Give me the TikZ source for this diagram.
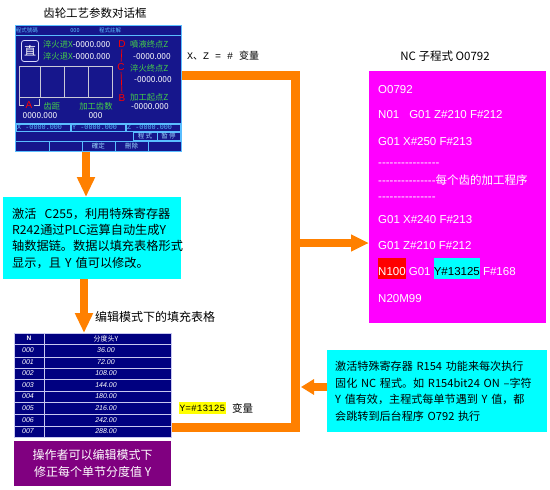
\documentclass[tikz,border=0pt]{standalone}
\usepackage{fontspec}
\setmainfont{Liberation Sans}
\newfontfamily\cjk{Noto Sans CJK SC}
\newfontfamily\mono{Liberation Mono}
\usetikzlibrary{arrows.meta}
\definecolor{dlgblue}{RGB}{22,22,140}
\definecolor{tblblue}{RGB}{0,0,128}
\definecolor{orng}{RGB}{255,128,0}
\definecolor{dgreen}{RGB}{70,210,70}
\definecolor{lblue}{RGB}{90,190,255}
\definecolor{purp}{RGB}{128,0,128}
\definecolor{gridgray}{RGB}{200,200,215}
\definecolor{tblline}{RGB}{200,200,240}
\definecolor{cyanc}{RGB}{0,255,255}
\definecolor{magc}{RGB}{255,0,255}
\definecolor{yelc}{RGB}{255,255,0}
\definecolor{redc}{RGB}{255,0,0}
\newcommand\dashrun[1]{\foreach \k in {1,...,#1}{-\kern0pt}}
\begin{document}
\begin{tikzpicture}[x=1pt,y=-1pt,
  every node/.style={inner sep=0pt},
  bus/.style={draw=orng, line width=9pt, line join=miter},
  orangearrow/.style={draw=orng, line width=8.5pt, -{Triangle[length=20pt,width=17pt]}},
  grn/.style={text=dgreen, font=\cjk\fontsize{8.3}{9}\selectfont},
  wht/.style={text=white, font=\cjk\fontsize{8.3}{9}\selectfont},
  redl/.style={text=redc, font=\fontsize{10}{11}\selectfont},
  stat/.style={text=lblue, font=\cjk\fontsize{5.5}{6}\selectfont},
  btn/.style={text=lblue!60!white, font=\cjk\fontsize{6.5}{7}\selectfont},
  coordtxt/.style={text=lblue, font=\mono\fontsize{6.8}{7}\selectfont, anchor=west},
  dline/.style={lblue, line width=0.6pt},
  code/.style={text=white, font=\fontsize{11.5}{13}\selectfont, anchor=base west},
  tbltxt/.style={text=white, font=\itshape\fontsize{7}{8}\selectfont},
  cjklabel/.style={font=\cjk\fontsize{11.5}{12}\selectfont}
]
\useasboundingbox (0,0) rectangle (550,490);

% ---------- title ----------
\node[cjklabel] (ttl) at (95,13) {齿轮工艺参数对话框};

% ---------- dialog ----------
\node[fill=dlgblue, draw=lblue, line width=0.6pt, anchor=north west,
      minimum width=166pt, minimum height=126pt] (dlg) at (15,25) {};
\node[stat] (st1) at (27,30.5) {程式號碼};
\node[stat] (st2) at (75,30.5) {000};
\node[stat] (st3) at (110,30.5) {程式註解};
\draw[dline] (15,35.5) -- (181,35.5);

\node[draw=white!85!blue, line width=0.8pt, rounded corners=2.5pt, minimum width=17pt,
      minimum height=21pt, text=white, font=\cjk\fontsize{12}{12}\selectfont] (zhi) at (30,51) {直};
\node[grn, anchor=west] (q1) at (43,44) {淬火进X\textcolor{white}{-0000.000}};
\node[grn, anchor=west] (q2) at (43,56) {淬火退X\textcolor{white}{-0000.000}};

\node[redl] (lD) at (122,44) {D};
\node[redl] (lC) at (121,67) {C};
\node[redl] (lB) at (122,98) {B};
\node[redl] (lA) at (29,105) {A};
\draw[redc, line width=0.7pt, shorten <=1.5pt, shorten >=1.5pt] (lD.south) -- (lC.north);
\draw[redc, line width=0.7pt, shorten <=1.5pt, shorten >=1.5pt] (lC.south) -- (lB.north);

\node[grn, anchor=west] (r1) at (130,44) {噴液终点Z};
\node[wht, anchor=west] (r1v) at (133,57) {-0000.000};
\node[grn, anchor=west] (r2) at (130,68) {淬火终点Z};
\node[wht, anchor=west] (r2v) at (134,80) {-0000.000};
\node[grn, anchor=west] (r3) at (130,97) {加工起点Z};
\node[wht, anchor=west] (r3v) at (131,107) {-0000.000};

\draw[gridgray, line width=0.6pt] (19,66) rectangle (112,97);
\foreach \x in {40,64,88} \draw[gridgray, line width=0.6pt] (\x,66) -- (\x,97);
\draw[gridgray, line width=0.6pt] (19,97) -- (19,105) -- (24,105);
\draw[gridgray, line width=0.6pt] (34,105) -- (39,105) -- (39,99);

\node[grn] (sp) at (52,106) {齿距};
\node[grn] (gs) at (96,106) {加工齿数};
\node[wht] (spv) at (40,116) {0000.000};
\node[wht] (gsv) at (95.5,116) {000};

\draw[dline] (15,123) -- (181,123);
\foreach \a/\b in {16/70,71/125,126/180} \draw[dline] (\a,124) rectangle (\b,131);
\node[coordtxt] (cx) at (17,127.5) {X -0000.000};
\node[coordtxt] (cy) at (72,127.5) {Y -0000.000};
\node[coordtxt] (cz) at (127,127.5) {Z -0000.000};
\draw[dline] (15,131.5) -- (181,131.5);
\draw[dline] (133,132) rectangle (157,140);
\draw[dline] (157,132) rectangle (180,140);
\node[btn] (bp) at (145,136) {程 式};
\node[btn] (bs) at (168.5,136) {暂 停};
\draw[dline] (15,141) -- (181,141);
\foreach \x in {49,82,115,148} \draw[dline] (\x,141) -- (\x,151);
\node[btn] (bok) at (98.5,146) {確定};
\node[btn] (bdel) at (131.5,146) {刪除};

\node[font=\fontsize{10}{11}\selectfont, anchor=west] (xz) at (187,56)
  {\mono X{\cjk 、}Z = \# {\cjk 变量}};

% ---------- cyan box 1 ----------
\node[fill=cyanc, anchor=north west, text width=160pt, inner xsep=9pt,
      minimum height=82pt, align=left, font=\cjk\fontsize{12.2}{16.3}\selectfont] (c1) at (3,197)
  {\mbox{激活\ \ C255，利用特殊寄存器}\\\mbox{R242通过PLC运算自动生成Y}\\\mbox{轴数据链。数据以填充表格形式}\\\mbox{显示，且 Y 值可以修改。}};

% ---------- table ----------
\node[anchor=west, font=\cjk\fontsize{12}{12}\selectfont] (tblt) at (95,317) {编辑模式下的填充表格};
\node[fill=tblblue, draw=tblline, line width=0.7pt, anchor=north west,
      minimum width=157pt, minimum height=104pt] (tbl) at (14,333) {};
\foreach \y in {344,357,368,379,391,402,414,426} \draw[tblline, line width=0.7pt] (14,\y) -- (171,\y);
\draw[tblline, line width=0.7pt] (44,333) -- (44,437);
\node[text=white, font=\bfseries\fontsize{6.5}{7}\selectfont] (hN) at (29,338.5) {N};
\node[text=white, font=\cjk\fontsize{7}{7}\selectfont] (hY) at (106,338.5) {分度头Y};
\foreach \i/\yy/\v in {0/350.5/36.00, 1/362.5/72.00, 2/373.5/108.00, 3/385/144.00,
                       4/396.5/180.00, 5/408/216.00, 6/420/242.00, 7/431.5/288.00} {
  \node[tbltxt, anchor=west] (n\i) at (22,\yy) {00\i};
  \node[tbltxt] (v\i) at (106,\yy) {\v};
}

\node[fill=purp, anchor=north west, minimum width=157pt, minimum height=45pt, text=white,
      align=center, font=\cjk\fontsize{12}{17}\selectfont] (pur) at (14,441)
  {操作者可以编辑模式下\\修正每个单节分度值 Y};

\node[fill=yelc, anchor=west, font=\mono\fontsize{9.5}{10}\selectfont, inner xsep=0.5pt,
      inner ysep=2.5pt] (yv) at (179,408) {Y=\#13125};
\node[anchor=west, font=\cjk\fontsize{10.5}{11}\selectfont] (yvl) at (232,408) {变量};

% ---------- NC program ----------
\node[cjklabel] (nct) at (445,56) {NC 子程式 O0792};
\node[fill=magc, anchor=north west, minimum width=177pt, minimum height=252pt] (mag) at (369,71) {};
\node[code] (m1) at (378,93) {O0792};
\node[code] (m2) at (378,118) {N01\hspace{10pt}G01 Z\#210 F\#212};
\node[code] (m3) at (378,145) {G01 X\#250 F\#213};
\node[code] (m4) at (378,166.5) {\dashrun{16}};
\node[code] (m5) at (378,184) {\dashrun{15}{\cjk 每个齿的加工程序}};
\node[code] (m6) at (378,200.5) {\dashrun{15}};
\node[code] (m7) at (378,223) {G01 X\#240 F\#213};
\node[code] (m8) at (378,249) {G01 Z\#210 F\#212};
\node[code] (m9) at (378,275) {\setlength{\fboxsep}{0pt}\colorbox{redc}{\rule[-4pt]{0pt}{21pt}N100} G01 \colorbox{cyanc}{\rule[-4pt]{0pt}{21pt}\textcolor{black}{Y\#13125}} F\#168};
\node[code] (m10) at (378,302) {N20M99};

% ---------- cyan box 2 ----------
\node[fill=cyanc, anchor=north west, text width=204pt, inner xsep=8pt,
      minimum height=82pt, align=left, font=\cjk\fontsize{11.1}{16.7}\selectfont] (c2) at (327,350)
  {激活特殊寄存器 R154 功能来每次执行\\固化 NC 程式。如 R154bit24 ON –字符\\Y 值有效，主程式每单节遇到 Y 值，都\\会跳转到后台程序 O792 执行};

% ---------- orange connectors ----------
\coordinate (a1) at (86,0);
\coordinate (a2) at (84,0);
\coordinate (bt) at (295.5,75);
\coordinate (bb) at (295.5,427);
\coordinate (bm) at (295.5,243);
\coordinate (br) at (301,387);

\draw[orangearrow] (dlg.south -| a1) -- (c1.north -| a1);
\draw[orangearrow] (c1.south -| a2) -- (tbl.north -| a2);
\draw[bus] (dlg.east |- bt) -- (bt) -- (bb) -- (tbl.east |- bb);
\draw[draw=orng, line width=8pt, -{Triangle[length=18pt,width=16pt]}] (bm) -- (mag.west |- bm);
\draw[draw=orng, line width=8pt, -{Triangle[length=13pt,width=15pt]}] (c2.west |- br) -- (br);
\end{tikzpicture}
\end{document}
